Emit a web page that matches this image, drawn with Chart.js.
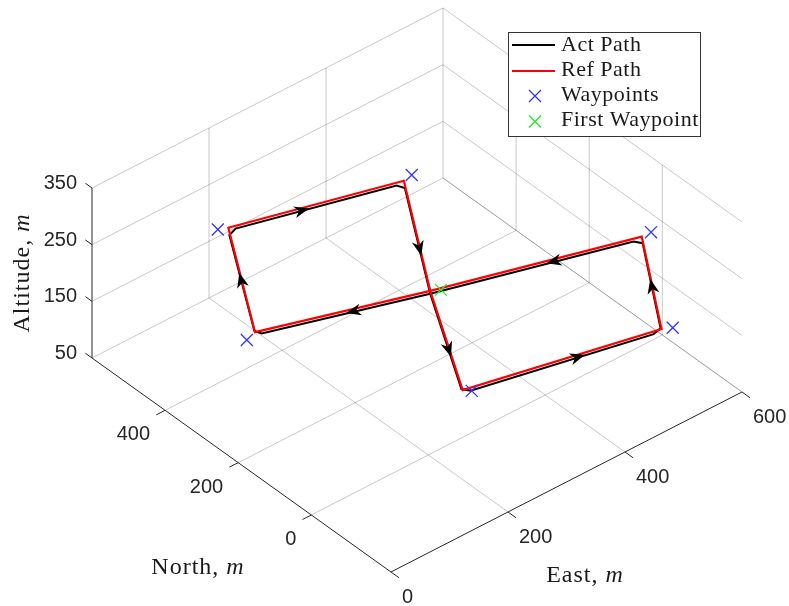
<!DOCTYPE html>
<html>
<head>
<meta charset="utf-8">
<script src="https://cdn.jsdelivr.net/npm/chart.js@4.4.1/dist/chart.umd.min.js"></script>
<style>
  html, body { margin: 0; padding: 0; background: #fff; }
  #wrap { width: 789px; height: 606px; }
</style>
</head>
<body>
<div id="wrap"><canvas id="chart" width="789" height="606"></canvas></div>
<script>
// axis limits and ticks (metres)
const eastLim = [0, 600];
const northLim = [-218, 600];
const altLim = [50, 350];
const eastTicks = [0, 200, 400, 600];
const northTicks = [0, 200, 400];
const altTicks = [50, 150, 250, 350];

// reference path corners (east, north, altitude)
const refEast  = [312, 80, 120, 360, 312, 285, 568, 598, 312];
const refNorth = [174, 282, 419, 323, 174, 42, -49, 53, 174];
const refAlt   = [200, 200, 300, 300, 200, 100, 100, 200, 200];

// actual flown path, corners a bit rounded and slightly lower
const actEast  = [312, 89, 82, 118, 130, 350, 358, 312, 286, 296, 557, 569, 597, 587, 312];
const actNorth = [174, 278, 287, 413, 415, 327, 317, 174, 47, 38, -45, -45, 49, 58, 174];
const actAlt   = [195, 195, 199, 291, 295, 295, 291, 195, 99, 95, 95, 99, 191, 195, 195];

// waypoints
const wpEast  = [107, 376, 61, 293, 581, 582];
const wpNorth = [427, 327, 274, 30, -59, 2];
const wpAlt   = [300, 300, 200, 100, 100, 240];
const firstWp = [324, 164, 200];

// where the direction arrows sit on each leg (fraction of leg)
const arrowAt = [0.48, 0.59, 0.46, 0.66, 0.64, 0.615, 0.567, 0.45];

// fixed view of the 3-D box
function proj(e, n, z) {
  return { x: 0.585 * e - 0.3655 * n, y: 0.3 * e + 0.2616 * n + 0.5667 * z };
}

const gap = { x: null, y: null };
function seg(list, a, b) { list.push(proj(...a), proj(...b), gap); }

// grid lines on walls and floor
const grid = [];
const [e0, e1] = eastLim, [n0, n1] = northLim, [z0, z1] = altLim;
eastTicks.filter(e => e > e0).forEach(e => seg(grid, [e, n1, z0], [e, n1, z1]));
altTicks.forEach(z => seg(grid, [e0, n1, z], [e1, n1, z]));
northTicks.forEach(n => seg(grid, [e1, n, z0], [e1, n, z1]));
altTicks.forEach(z => seg(grid, [e1, n0, z], [e1, n1, z]));
eastTicks.filter(e => e > e0).forEach(e => seg(grid, [e, n0, z0], [e, n1, z0]));
northTicks.forEach(n => seg(grid, [e0, n, z0], [e1, n, z0]));

// axis lines and tick marks
const axes = [];
seg(axes, [e0, n1, z0], [e0, n1, z1]);
seg(axes, [e0, n0, z0], [e0, n1, z0]);
seg(axes, [e0, n0, z0], [e1, n0, z0]);
altTicks.forEach(z => seg(axes, [e0, n1, z], [e0, n1 + 18, z]));
northTicks.forEach(n => seg(axes, [e0, n, z0], [e0 - 15, n, z0]));
eastTicks.forEach(e => seg(axes, [e, n0, z0], [e, n0 - 22, z0]));

const refPts = refEast.map((e, i) => proj(e, refNorth[i], refAlt[i]));
const actPts = actEast.map((e, i) => proj(e, actNorth[i], actAlt[i]));
const wpPts = wpEast.map((e, i) => proj(e, wpNorth[i], wpAlt[i]));
const firstPts = [proj(...firstWp)];

const tickFont = '20px "Liberation Sans", Arial, sans-serif';
const serif = '"Liberation Serif", "Times New Roman", serif';

function mixed(ctx, parts, x, y, size, spacing) {
  ctx.letterSpacing = spacing + 'px';
  let w = 0;
  parts.forEach(p => { ctx.font = (p[1] ? 'italic ' : '') + size + 'px ' + serif; w += ctx.measureText(p[0]).width; });
  let cx = x - w / 2;
  ctx.textAlign = 'left';
  parts.forEach(p => {
    ctx.font = (p[1] ? 'italic ' : '') + size + 'px ' + serif;
    ctx.fillText(p[0], cx, y);
    cx += ctx.measureText(p[0]).width;
  });
  ctx.letterSpacing = '0px';
}

function cross(ctx, x, y, r, color) {
  ctx.strokeStyle = color;
  ctx.lineWidth = 1.3;
  ctx.beginPath();
  ctx.moveTo(x - r, y - r); ctx.lineTo(x + r, y + r);
  ctx.moveTo(x - r, y + r); ctx.lineTo(x + r, y - r);
  ctx.stroke();
}

const decor = {
  id: 'decor',
  afterDatasetsDraw(chart) {
    const ctx = chart.ctx;
    const sx = chart.scales.x, sy = chart.scales.y;
    const P = (e, n, z) => { const p = proj(e, n, z); return [sx.getPixelForValue(p.x), sy.getPixelForValue(p.y)]; };
    ctx.save();

    // arrows
    ctx.fillStyle = '#000';
    arrowAt.forEach((f, i) => {
      const a = P(refEast[i], refNorth[i], refAlt[i] - 4);
      const b = P(refEast[i + 1], refNorth[i + 1], refAlt[i + 1] - 4);
      const len = Math.hypot(b[0] - a[0], b[1] - a[1]);
      const dx = (b[0] - a[0]) / len, dy = (b[1] - a[1]) / len;
      const tx = a[0] + f * (b[0] - a[0]), ty = a[1] + f * (b[1] - a[1]);
      const L = 15, W = 6;
      ctx.beginPath();
      ctx.moveTo(tx, ty);
      ctx.lineTo(tx - L * dx - W * dy, ty - L * dy + W * dx);
      ctx.lineTo(tx - 0.7 * L * dx, ty - 0.7 * L * dy);
      ctx.lineTo(tx - L * dx + W * dy, ty - L * dy - W * dx);
      ctx.closePath();
      ctx.fill();
    });

    // tick labels
    ctx.fillStyle = '#262626';
    ctx.font = tickFont;
    ctx.textBaseline = 'alphabetic';
    ctx.textAlign = 'right';
    altTicks.forEach(z => { const p = P(e0, n1, z); ctx.fillText(String(z), p[0] - 15, p[1] + 1); });
    northTicks.forEach(n => { const p = P(e0, n, z0); ctx.fillText(String(n), p[0] - 15, p[1] + 30); });
    ctx.textAlign = 'left';
    eastTicks.forEach(e => { const p = P(e, n0, z0); ctx.fillText(String(e), p[0] + 11, p[1] + 31); });

    // axis titles
    ctx.fillStyle = '#1a1a1a';
    mixed(ctx, [['North, ', false], ['m', true]], 198, 574, 24, 1);
    mixed(ctx, [['East, ', false], ['m', true]], 585, 582, 24, 1);
    ctx.save();
    ctx.translate(29, 273);
    ctx.rotate(-Math.PI / 2);
    mixed(ctx, [['Altitude, ', false], ['m', true]], 0, 0, 24, 1);
    ctx.restore();

    // legend
    ctx.fillStyle = '#fff';
    ctx.fillRect(508.5, 32.5, 192, 104);
    ctx.strokeStyle = '#333';
    ctx.lineWidth = 1;
    ctx.strokeRect(508.5, 32.5, 192, 104);
    ctx.lineWidth = 2;
    ctx.strokeStyle = '#000';
    ctx.beginPath(); ctx.moveTo(512, 45); ctx.lineTo(555, 45); ctx.stroke();
    ctx.strokeStyle = '#ff0000';
    ctx.beginPath(); ctx.moveTo(512, 71); ctx.lineTo(555, 71); ctx.stroke();
    cross(ctx, 535, 96, 6, '#3333ff');
    cross(ctx, 535, 121.5, 6, '#22ee22');
    ctx.fillStyle = '#1a1a1a';
    ctx.font = '22px ' + serif;
    ctx.letterSpacing = '0.5px';
    ctx.textAlign = 'left';
    ['Act Path', 'Ref Path', 'Waypoints', 'First Waypoint'].forEach((t, i) => ctx.fillText(t, 561, 51 + i * 25));
    ctx.letterSpacing = '0px';
    ctx.restore();
  }
};

new Chart(document.getElementById('chart'), {
  type: 'scatter',
  data: {
    datasets: [
      { label: 'grid', data: grid, showLine: true, borderColor: 'rgba(0,0,0,0.22)', borderWidth: 1, pointRadius: 0, spanGaps: false, order: 5 },
      { label: 'axes', data: axes, showLine: true, borderColor: '#262626', borderWidth: 1, pointRadius: 0, spanGaps: false, order: 4 },
      { label: 'Act Path', data: actPts, showLine: true, borderColor: '#000', borderWidth: 2, pointRadius: 0, order: 3 },
      { label: 'Ref Path', data: refPts, showLine: true, borderColor: '#ff0000', borderWidth: 2.2, pointRadius: 0, order: 2 },
      { label: 'Waypoints', data: wpPts, pointStyle: 'crossRot', pointRadius: 8.5, borderColor: '#3333ff', pointBorderWidth: 1.3, order: 1 },
      { label: 'First Waypoint', data: firstPts, pointStyle: 'crossRot', pointRadius: 8.5, borderColor: '#22ee22', pointBorderWidth: 1.3, order: 0 }
    ]
  },
  options: {
    responsive: false,
    animation: false,
    devicePixelRatio: 1,
    layout: { padding: 0, autoPadding: false },
    scales: {
      x: { type: 'linear', min: -311.3, max: 477.7, display: false },
      y: { type: 'linear', min: -62.7, max: 543.3, display: false }
    },
    plugins: { legend: { display: false }, tooltip: { enabled: false } }
  },
  plugins: [decor]
});
</script>
</body>
</html>
